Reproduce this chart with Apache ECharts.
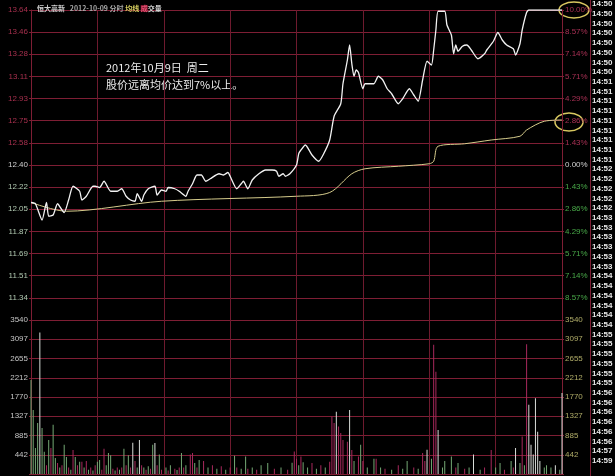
<!DOCTYPE html>
<html><head><meta charset="utf-8">
<script src="https://cdn.jsdelivr.net/npm/echarts@6/dist/echarts.min.js"></script>
<style>html,body{margin:0;padding:0;background:#000}#c{width:615px;height:476px}</style>
</head><body><div id="c"></div>
<script>
// ---- data ----
const priceMinutes = [0,2,5,7,8,10,12,14,15,17,19,22,23,25,28,29,31,33,36,39,41,43,45,47,48,50,51,53,56,57,59,61,62,65,67,70,71,73,75,77,79,81,85,87,89,90,93,95,96,98,100,103,106,109,111,112,114,115,117,120,121,122,124,127,130,132,135,137,140,141,143,144,145,146,147,148,150,151,154,155,157,159,161,163,166,168,171,173,175,177,179,181,182,183,184,187,188,190,191,192,193,195,197,199,202,205,206,209,211,213,215,218,219,221,222,224,225,240];
const priceValues = [12.10,12.09,11.96,12.10,11.99,12.00,12.09,12.04,12.02,12.12,12.23,12.19,12.12,12.15,12.23,12.23,12.22,12.27,12.19,12.19,12.21,12.15,12.12,12.11,12.17,12.11,12.16,12.21,12.23,12.16,12.20,12.19,12.22,12.21,12.19,12.15,12.19,12.25,12.32,12.32,12.27,12.29,12.33,12.32,12.34,12.31,12.21,12.25,12.27,12.21,12.28,12.33,12.36,12.36,12.35,12.31,12.33,12.31,12.33,12.40,12.49,12.52,12.56,12.48,12.43,12.48,12.60,12.79,12.89,13.05,13.24,13.36,13.21,13.11,13.16,13.14,13.01,13.05,13.05,13.05,13.11,13.08,13.01,12.97,12.89,12.93,13.01,12.96,12.91,13.08,13.23,13.20,13.32,13.48,13.63,13.63,13.52,13.44,13.29,13.36,13.31,13.35,13.36,13.32,13.25,13.29,13.32,13.39,13.46,13.40,13.36,13.33,13.28,13.37,13.48,13.62,13.64,13.64];
const avgMinutes = [0,16,59,120,135,145,151,166,180,182,184,196,208,221,224,232,240];
const avgValues = [12.10,12.03,12.11,12.15,12.18,12.33,12.37,12.39,12.41,12.43,12.55,12.57,12.60,12.63,12.68,12.75,12.76];
const volMinutes = [0,1,2,3,4,5,6,7,8,9,10,11,12,13,14,15,16,17,18,19,20,21,22,23,24,25,26,27,28,29,30,31,32,33,34,35,36,37,38,39,40,41,42,43,44,45,46,47,48,49,50,51,52,53,54,55,56,57,58,59,61,62,63,65,66,67,68,69,70,72,73,74,75,76,78,80,82,84,86,88,90,92,93,95,97,98,100,102,104,107,110,113,116,118,119,120,121,122,123,125,127,129,131,133,135,136,137,138,139,140,141,143,144,145,146,148,149,150,152,155,156,158,160,163,166,168,170,173,175,177,178,179,181,182,183,184,186,187,190,192,193,196,198,200,203,205,208,210,212,214,217,218,219,221,222,223,224,225,226,227,228,229,230,232,233,235,237,239,240];
const volValues = [2160,1470,600,1170,3250,1060,510,200,780,600,1130,370,250,150,200,670,390,150,100,550,390,200,280,280,150,300,100,150,80,200,280,320,100,580,200,480,430,120,80,150,100,150,580,200,430,150,720,300,150,780,200,150,100,180,120,670,710,200,450,100,150,80,200,120,90,150,480,150,200,450,480,250,150,320,300,150,200,120,180,100,150,420,150,120,400,120,150,100,200,250,120,150,100,260,520,350,200,400,270,150,250,120,200,150,280,1320,1170,1430,1090,940,780,740,1470,550,300,400,670,300,150,350,350,150,120,100,200,120,300,150,120,480,300,560,350,2970,2350,1010,150,300,400,150,250,120,150,450,100,150,550,150,250,100,300,150,600,250,860,200,2980,1590,670,450,1740,970,300,150,200,150,200,100,1860];
const volColors = ['g','g','g','g','w','g','g','r','g','r','g','g','r','g','r','g','g','r','g','r','g','r','g','r','g','r','g','r','g','r','g','g','r','r','g','g','g','r','g','r','g','r','g','r','g','r','w','r','g','w','r','g','r','g','r','g','w','r','g','r','g','r','g','r','g','r','g','r','g','r','r','g','r','g','r','g','r','g','r','g','r','g','r','g','g','r','g','r','g','g','r','g','r','g','r','r','g','r','g','g','r','g','r','g','r','r','r','w','r','r','r','r','w','r','g','r','g','r','g','g','r','g','r','g','r','g','g','r','g','r','r','w','g','r','r','w','g','g','g','r','g','r','g','w','g','r','r','g','g','r','g','r','w','g','r','g','r','w','w','w','w','w','w','g','g','g','w','g','w'];
const priceTickLabels = ['', '11.34','11.51','11.69','11.87','12.05','12.22','12.40','12.58','12.75','12.93','13.11','13.28','13.46','13.64'];
const pctTickLabels = ['', '8.57%','7.14%','5.71%','4.29%','2.86%','1.43%','0.00%','1.43%','2.86%','4.29%','5.71%','7.14%','8.57%','10.00%'];
const volTickLabels = ['', '442','885','1327','1770','2212','2655','3097','3540'];
const tradeTimes = ['14:50','14:50','14:50','14:50','14:50','14:50','14:50','14:50','14:51','14:51','14:51','14:51','14:51','14:51','14:51','14:51','14:51','14:52','14:52','14:52','14:52','14:52','14:53','14:53','14:53','14:53','14:53','14:53','14:54','14:54','14:54','14:54','14:54','14:54','14:55','14:55','14:55','14:55','14:55','14:55','14:56','14:56','14:56','14:56','14:56','14:56','14:57','14:59'];
const titleText = '{w|恒大高新}   {g|2012-10-09 分时} {y|均线} {r|成}{w|交量}';
const noteLines = ['2012年10月9日  周二', '股价远离均价达到7%以上。'];

// ---- chart ----
const RED = '#7e1e34';
const VRED = '#6e1a2e';
const LAB = '"Liberation Sans",Arial,sans-serif';
const CJK = '"Noto Sans CJK SC",sans-serif';
const step = 1.24 / 7;
const pMin = 63 * step, pMax = 77 * step;
const colorMap = {g:'#74a874', w:'#d8dcd8', r:'#a8285c'};

function priceIdx(v){ return Math.round((parseFloat(v) - pMin) / step); }
function volIdx(v){ return Math.round(parseFloat(v) / 442.5); }
function sideColor(v, up, mid, down){
  const i = priceIdx(v);
  return i > 7 ? up : (i === 7 ? mid : down);
}

const xCommon = {
  type:'value', min:0, max:240, interval:30,
  axisLine:{show:false}, axisTick:{show:false}, axisLabel:{show:false},
  splitLine:{show:true, lineStyle:{color:VRED, width:1}}
};

const graphics = [];
graphics.push({type:'line', shape:{x1:590.5,y1:0,x2:590.5,y2:476}, style:{stroke:RED, lineWidth:1}, silent:true});
tradeTimes.forEach((t, i) => {
  graphics.push({type:'text', x:592, y:4 + i*9.72, style:{text:t, fill:'#e8e8e8', font:'bold 8px ' + LAB, textVerticalAlign:'middle'}, silent:true});
});
graphics.push({type:'ellipse', shape:{cx:574, cy:10, rx:15, ry:8}, style:{fill:'none', stroke:'#d8c860', lineWidth:1.5}, silent:true});
graphics.push({type:'ellipse', shape:{cx:569, cy:122, rx:14, ry:9}, style:{fill:'none', stroke:'#d8c860', lineWidth:1.5}, silent:true});
noteLines.forEach((s, i) => {
  graphics.push({type:'text', x:106, y:68 + i*17, style:{text:s, fill:'#ececec', font:'11px ' + CJK, textVerticalAlign:'middle'}, silent:true});
});

const option = {
  backgroundColor:'#000',
  animation:false,
  title:{
    text:titleText, left:32, top:0,
    textStyle:{fontSize:7, fontFamily:CJK, rich:{
      w:{color:'#d0d0d0', fontSize:7, fontFamily:CJK},
      g:{color:'#a8a8a8', fontSize:7, fontFamily:CJK},
      y:{color:'#d8d060', fontSize:7, fontFamily:CJK},
      r:{color:'#e05070', backgroundColor:'#801830', fontSize:7, fontFamily:CJK}
    }}
  },
  grid:[
    {left:31, right:53, top:10, height:310},
    {left:31, right:53, top:320, height:154}
  ],
  xAxis:[
    Object.assign({gridIndex:0}, xCommon),
    Object.assign({gridIndex:1}, xCommon)
  ],
  yAxis:[
    {gridIndex:0, type:'value', min:pMin, max:pMax, interval:step,
      axisLine:{show:true, lineStyle:{color:RED}},
      axisTick:{show:true, length:2, lineStyle:{color:RED}},
      axisLabel:{fontSize:8, fontFamily:LAB, margin:3,
        formatter:(v) => priceTickLabels[priceIdx(v)] || '',
        color:(v) => sideColor(v, '#a8304e', '#d0d0d0', '#b0c8b0')},
      splitLine:{show:true, lineStyle:{color:RED}}},
    {gridIndex:0, type:'value', position:'right', min:pMin, max:pMax, interval:step,
      axisLine:{show:true, lineStyle:{color:RED}},
      axisTick:{show:true, length:2, lineStyle:{color:RED}},
      axisLabel:{fontSize:8, fontFamily:LAB, margin:3,
        formatter:(v) => pctTickLabels[priceIdx(v)] || '',
        color:(v) => sideColor(v, '#a83054', '#d0d0d0', '#48a848')},
      splitLine:{show:false}},
    {gridIndex:1, type:'value', min:0, max:3540, interval:442.5,
      axisLine:{show:true, lineStyle:{color:RED}},
      axisTick:{show:true, length:2, lineStyle:{color:RED}},
      axisLabel:{fontSize:8, fontFamily:LAB, margin:3, color:'#c4c4c4',
        formatter:(v) => volTickLabels[volIdx(v)] || ''},
      splitLine:{show:true, lineStyle:{color:RED}}},
    {gridIndex:1, type:'value', position:'right', min:0, max:3540, interval:442.5,
      axisLine:{show:true, lineStyle:{color:RED}},
      axisTick:{show:true, length:2, lineStyle:{color:RED}},
      axisLabel:{fontSize:8, fontFamily:LAB, margin:3, color:'#b0ac68',
        formatter:(v) => volTickLabels[volIdx(v)] || ''},
      splitLine:{show:false}}
  ],
  series:[
    {type:'line', xAxisIndex:0, yAxisIndex:0, showSymbol:false, smooth:0.2,
      data:priceMinutes.map((m, i) => [m, priceValues[i]]),
      lineStyle:{color:'#f2f2f2', width:1.3}, z:5},
    {type:'line', xAxisIndex:0, yAxisIndex:0, showSymbol:false, smooth:0.3,
      data:avgMinutes.map((m, i) => [m, avgValues[i]]),
      lineStyle:{color:'#d6cc8c', width:1}, z:4},
    {type:'bar', xAxisIndex:1, yAxisIndex:2, barWidth:1,
      data:volMinutes.map((m, i) => ({value:[m, volValues[i]], itemStyle:{color:colorMap[volColors[i]]}}))}
  ],
  graphic:graphics
};

const chart = echarts.init(document.getElementById('c'), null, {renderer:'canvas'});
chart.setOption(option);
</script>
</body></html>
